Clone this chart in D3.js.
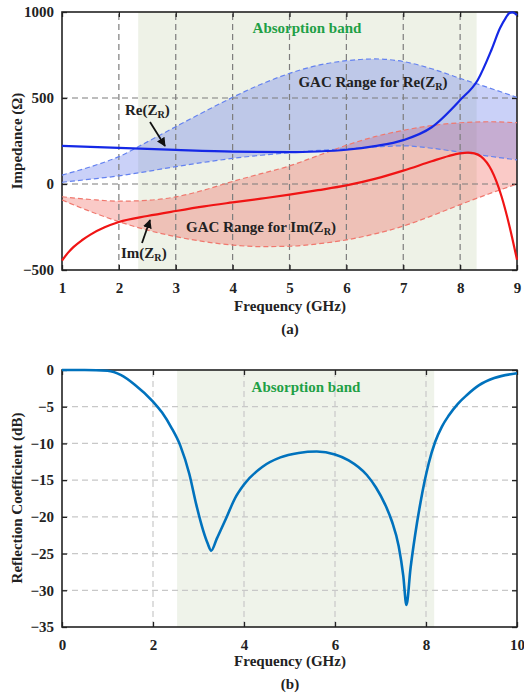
<!DOCTYPE html>
<html>
<head>
<meta charset="utf-8">
<script src="https://cdn.jsdelivr.net/npm/d3@7"></script>
<style>
  html, body { margin: 0; padding: 0; background: #fff; }
  svg text { font-family: "Liberation Serif", "Times New Roman", serif; font-weight: bold; }
</style>
</head>
<body>
<svg id="fig" width="524" height="693"></svg>
<script>
// ---- (a) impedance ----
const freqTicksA = [1, 2, 3, 4, 5, 6, 7, 8, 9];
const impTicks = [-500, 0, 500, 1000];
const bandA = [2.34, 8.29];

const reFreq = [1, 2, 3, 4, 5, 5.5, 6, 6.5, 7, 7.5, 8, 8.31, 8.55, 8.7, 8.8, 8.87, 8.92, 9];
const reZ    = [222, 210, 198, 188, 185, 189, 199, 220, 255, 330, 488, 605, 779, 905, 965, 995, 998, 982];

const imFreq = [1, 1.1, 1.2, 1.35, 1.5, 1.75, 2, 2.5, 3, 3.5, 4, 4.5, 5, 5.5, 6, 6.5, 7, 7.5, 7.8, 8, 8.14, 8.25, 8.37, 8.55, 8.73, 8.87, 9];
const imZ    = [-445, -402, -367, -327, -294, -252, -221, -186, -157, -130, -107, -85, -62, -36, -8, 30, 78, 132, 163, 178, 182, 178, 159, 81, -74, -248, -440];

const gacFreq = [1, 1.5, 2, 2.5, 3, 3.5, 4, 4.5, 5, 5.5, 6, 6.5, 7, 7.5, 8, 8.5, 9];
const gacReHi = [52, 100, 159, 245, 333, 420, 504, 580, 643, 690, 717, 727, 712, 670, 614, 560, 504];
const gacReLo = [10, 28, 47, 73, 101, 126, 149, 167, 182, 195, 205, 215, 222, 208, 185, 162, 140];
const gacImHi = [-74, -90, -100, -95, -75, -35, 15, 60, 105, 165, 225, 275, 312, 340, 356, 362, 356];
const gacImLo = [-93, -160, -219, -268, -306, -335, -355, -364, -362, -348, -325, -290, -245, -185, -120, -58, 0];

// ---- (b) reflection coefficient ----
const freqTicksB = [0, 2, 4, 6, 8, 10];
const dbTicks = [0, -5, -10, -15, -20, -25, -30, -35];
const bandB = [2.53, 8.18];
const s11Freq = [0, 0.5, 1.0, 1.3, 1.6, 2.0, 2.2, 2.4, 2.6, 2.8, 2.95, 3.1, 3.2, 3.28, 3.4, 3.6, 3.8, 4.0, 4.4, 4.8, 5.2, 5.6, 6.0, 6.3, 6.7, 6.9, 7.1, 7.25, 7.4, 7.5, 7.57, 7.66, 7.76, 7.88, 8.06, 8.2, 8.35, 8.5, 8.7, 8.9, 9.16, 9.5, 10];
const s11dB   = [0, 0, -0.1, -0.7, -2.0, -4.3, -5.8, -7.8, -10.3, -14.2, -18.3, -21.8, -23.6, -24.6, -23.0, -20.3, -17.5, -15.6, -13.2, -11.9, -11.3, -11.1, -11.5, -12.3, -14.3, -16.0, -18.3, -20.6, -24.0, -28.0, -32.0, -27.0, -22.5, -18.0, -12.7, -9.8, -7.7, -6.2, -4.6, -3.4, -2.1, -1.1, -0.45];

const svg = d3.select("#fig");
const FS = 15;

function subLabel(g, x, y, pre, sub, post, anchor, size) {
  const t = g.append("text").attr("x", x).attr("y", y)
    .attr("text-anchor", anchor || "start").attr("font-size", size || FS).attr("fill", "#222");
  t.append("tspan").text(pre);
  t.append("tspan").attr("font-size", (size || FS) * 0.68).attr("dy", 3).text(sub);
  t.append("tspan").attr("dy", -3).text(post);
  return t;
}

function frame(g, x, y, xTicks, yTicks, gridColor, gridY, gridX) {
  const [x0, x1] = x.range(), [y0, y1] = y.range();
  // grid
  g.append("g").selectAll("line").data(gridX).join("line")
    .attr("x1", d => x(d)).attr("x2", d => x(d)).attr("y1", y0).attr("y2", y1)
    .attr("stroke", gridColor).attr("stroke-width", 1.2).attr("stroke-dasharray", "6,4");
  g.append("g").selectAll("line").data(gridY).join("line")
    .attr("y1", d => y(d)).attr("y2", d => y(d)).attr("x1", x0).attr("x2", x1)
    .attr("stroke", gridColor).attr("stroke-width", 1.2).attr("stroke-dasharray", "6,4");
  // axes with inward ticks
  const ax = g.append("g").attr("transform", `translate(0,${y0})`)
    .call(d3.axisBottom(x).tickValues(xTicks).tickSize(-5).tickPadding(12).tickFormat(d3.format("d")));
  const ay = g.append("g").attr("transform", `translate(${x0},0)`)
    .call(d3.axisLeft(y).tickValues(yTicks).tickSize(-5).tickPadding(8).tickFormat(d3.format("d")));
  const at = g.append("g").attr("transform", `translate(0,${y1})`)
    .call(d3.axisTop(x).tickValues(xTicks).tickSize(-5).tickFormat(""));
  const ar = g.append("g").attr("transform", `translate(${x1},0)`)
    .call(d3.axisRight(y).tickValues(yTicks).tickSize(-5).tickFormat(""));
  [ax, ay, at, ar].forEach(a => {
    a.select(".domain").remove();
    a.selectAll(".tick line").attr("stroke", "#222").attr("stroke-width", 1.3);
    a.selectAll("text").attr("font-size", FS).attr("fill", "#222")
      .attr("font-family", "Liberation Serif, Times New Roman, serif").attr("font-weight", "bold");
  });
  g.append("rect").attr("x", x0).attr("y", y1).attr("width", x1 - x0).attr("height", y0 - y1)
    .attr("fill", "none").attr("stroke", "#222").attr("stroke-width", 1.6);
}

// ================= (a) =================
const gA = svg.append("g");
const xA = d3.scaleLinear().domain([1, 9]).range([62, 517]);
const yA = d3.scaleLinear().domain([-500, 1000]).range([270, 12]);

gA.append("rect").attr("x", xA(bandA[0])).attr("y", yA(1000))
  .attr("width", xA(bandA[1]) - xA(bandA[0])).attr("height", yA(-500) - yA(1000))
  .attr("fill", "#eef2e7");

const rangeRe = gacFreq.map((f, i) => ({ f, hi: gacReHi[i], lo: gacReLo[i] }));
const rangeIm = gacFreq.map((f, i) => ({ f, hi: gacImHi[i], lo: gacImLo[i] }));
const area = d3.area().x(d => xA(d.f)).y0(d => yA(d.lo)).y1(d => yA(d.hi)).curve(d3.curveMonotoneX);
gA.append("path").datum(rangeIm).attr("d", area).attr("fill", "rgb(240,95,85)").attr("fill-opacity", 0.33);
gA.append("path").datum(rangeRe).attr("d", area).attr("fill", "rgb(95,115,235)").attr("fill-opacity", 0.33);

frame(gA, xA, yA, freqTicksA, impTicks, "rgb(125,125,125)", [0, 500], [2, 3, 4, 5, 6, 7, 8]);

const lineA = (key) => d3.line().x(d => xA(d.f)).y(d => yA(d[key])).curve(d3.curveMonotoneX);
[["hi", rangeRe, "rgb(100,130,240)"], ["lo", rangeRe, "rgb(100,130,240)"],
 ["hi", rangeIm, "rgb(240,120,110)"], ["lo", rangeIm, "rgb(240,120,110)"]].forEach(([k, data, c]) => {
  gA.append("path").datum(data).attr("d", lineA(k)).attr("fill", "none")
    .attr("stroke", c).attr("stroke-width", 1.2).attr("stroke-dasharray", "5,3");
});

const curve = d3.line().x(d => xA(d[0])).y(d => yA(d[1])).curve(d3.curveMonotoneX);
gA.append("path").datum(imFreq.map((f, i) => [f, imZ[i]])).attr("d", curve)
  .attr("fill", "none").attr("stroke", "rgb(240,20,20)").attr("stroke-width", 2.2);
gA.append("path").datum(reFreq.map((f, i) => [f, reZ[i]])).attr("d", curve)
  .attr("fill", "none").attr("stroke", "rgb(20,40,230)").attr("stroke-width", 2.2);

gA.append("text").attr("x", 307).attr("y", 33).attr("text-anchor", "middle")
  .attr("font-size", FS).attr("fill", "rgb(30,160,70)").text("Absorption band");
subLabel(gA, 373, 87, "GAC Range for Re(Z", "R", ")", "middle");
subLabel(gA, 261, 232, "GAC Range for Im(Z", "R", ")", "middle");
subLabel(gA, 125, 115, "Re(Z", "R", ")", "start");
subLabel(gA, 121, 258, "Im(Z", "R", ")", "start");

svg.append("defs").append("marker").attr("id", "arr").attr("viewBox", "0 0 10 10")
  .attr("refX", 9).attr("refY", 5).attr("markerWidth", 5).attr("markerHeight", 5)
  .attr("orient", "auto").append("path").attr("d", "M0,0 L10,5 L0,10 z").attr("fill", "#111");
gA.append("line").attr("x1", 150).attr("y1", 122).attr("x2", 165).attr("y2", 146)
  .attr("stroke", "#111").attr("stroke-width", 1.8).attr("marker-end", "url(#arr)");
gA.append("line").attr("x1", 142).attr("y1", 243).attr("x2", 150).attr("y2", 220)
  .attr("stroke", "#111").attr("stroke-width", 1.8).attr("marker-end", "url(#arr)");

gA.append("text").attr("transform", "translate(22,141) rotate(-90)").attr("text-anchor", "middle")
  .attr("font-size", FS).attr("fill", "#222").text("Impedance (Ω)");
gA.append("text").attr("x", 290).attr("y", 311).attr("text-anchor", "middle")
  .attr("font-size", FS).attr("fill", "#222").text("Frequency (GHz)");
gA.append("text").attr("x", 290).attr("y", 334).attr("text-anchor", "middle")
  .attr("font-size", FS).attr("fill", "#222").text("(a)");

// ================= (b) =================
const gB = svg.append("g");
const xB = d3.scaleLinear().domain([0, 10]).range([62, 517]);
const yB = d3.scaleLinear().domain([-35, 0]).range([627, 370]);

gB.append("rect").attr("x", xB(bandB[0])).attr("y", yB(0))
  .attr("width", xB(bandB[1]) - xB(bandB[0])).attr("height", yB(-35) - yB(0))
  .attr("fill", "#eff3ea");

frame(gB, xB, yB, freqTicksB, dbTicks, "rgb(200,200,200)", [-5, -10, -15, -20, -25, -30], [2, 4, 6, 8]);

gB.append("path").datum(s11Freq.map((f, i) => [f, s11dB[i]]))
  .attr("d", d3.line().x(d => xB(d[0])).y(d => yB(d[1])).curve(d3.curveMonotoneX))
  .attr("fill", "none").attr("stroke", "rgb(0,114,189)").attr("stroke-width", 2.6);

gB.append("text").attr("x", 306).attr("y", 392).attr("text-anchor", "middle")
  .attr("font-size", FS).attr("fill", "rgb(30,160,70)").text("Absorption band");
gB.append("text").attr("transform", "translate(22,498) rotate(-90)").attr("text-anchor", "middle")
  .attr("font-size", FS).attr("fill", "#222").text("Reflection Coefficient (dB)");
gB.append("text").attr("x", 290).attr("y", 666).attr("text-anchor", "middle")
  .attr("font-size", FS).attr("fill", "#222").text("Frequency (GHz)");
gB.append("text").attr("x", 290).attr("y", 689).attr("text-anchor", "middle")
  .attr("font-size", FS).attr("fill", "#222").text("(b)");
</script>
</body>
</html>
